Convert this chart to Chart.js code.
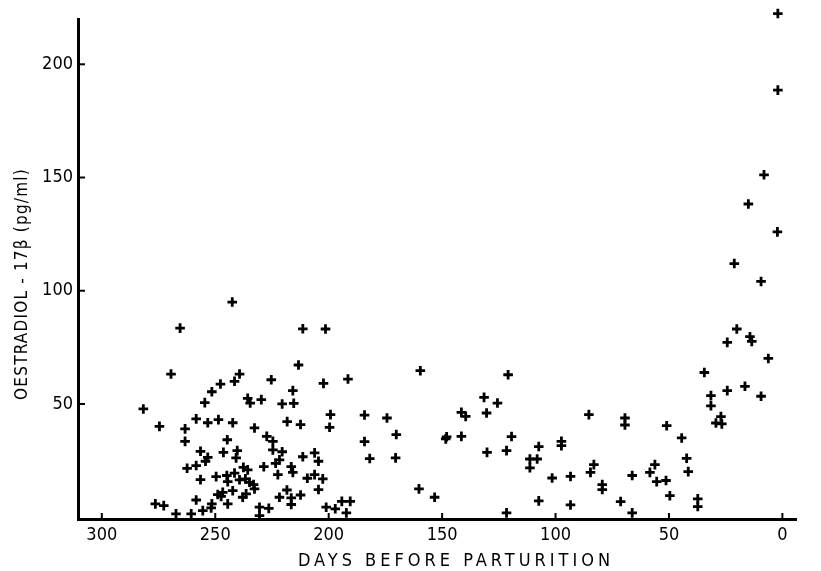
<!DOCTYPE html>
<html>
<head>
<meta charset="utf-8">
<script src="https://cdn.jsdelivr.net/npm/chart.js@4.4.1/dist/chart.umd.min.js"></script>
<style>
  html, body { margin: 0; padding: 0; background: #fff; }
  #wrap { width: 821px; height: 571px; }
</style>
</head>
<body>
<div id="wrap"><canvas id="oestradiolChart"></canvas></div>
<script>
// days before parturition for every sample
const days = [
  269.5, 281.7, 274.6, 239.3, 241.5, 247.7, 251.5, 254.6, 235.7, 234.6,
  229.7, 258.4, 253.3, 248.6, 242.3, 232.7, 263.3, 263.3, 244.7, 256.5,
  246.4, 240.3, 240.8, 253.3, 254.3, 258.4, 262.4, 237.6, 235.7, 241.5,
  244.9, 249.6, 256.5, 244.5, 239.3, 236.7, 234.9, 233.1, 232.7, 242.3,
  246.7, 248.9, 247.4, 236.4, 237.9, 258.4, 244.5, 251.5, 251.8, 255.5,
  276.4, 272.7, 267.3, 260.6, 213.3, 225.3, 215.8, 202.3, 191.5, 220.5,
  215.4, 199.2, 184.2, 199.6, 218.3, 212.4, 227.3, 224.6, 224.6, 220.5,
  211.4, 206.2, 204.5, 184.2, 181.9, 221.7, 223.4, 228.6, 216.5, 215.8,
  222.4, 209.4, 206.2, 202.6, 218.4, 221.7, 216.5, 216.5, 212.4, 204.5,
  230.5, 226.4, 230.5, 201.1, 197.1, 194.2, 190.5, 192.2, 265.5, 242.5,
  211.4, 201.4, 159.6, 174.3, 170.2, 170.5, 148.4, 148.0, 141.5, 139.6,
  141.5, 131.5, 130.4, 125.6, 120.9, 130.2, 121.6, 160.2, 153.3, 121.6,
  119.4, 107.4, 111.3, 108.1, 111.3, 97.4, 97.4, 101.5, 93.4, 85.3,
  69.4, 69.4, 83.1, 84.6, 79.4, 79.4, 66.2, 107.4, 93.4, 71.3,
  66.2, 58.4, 24.3, 13.5, 14.3, 6.2, 34.4, 24.3, 16.5, 9.4,
  31.5, 31.5, 27.1, 29.3, 26.7, 51.0, 44.4, 42.2, 56.2, 41.5,
  55.4, 51.3, 49.6, 37.3, 37.3, 2.0, 2.0, 8.1, 15.0, 2.2,
  21.2, 9.4, 20.1
];

// oestradiol-17beta, pg/ml, same order as days
const levels = [
  63.2, 47.8, 40.1, 63.2, 60.0, 58.8, 55.4, 50.6, 52.5, 50.4,
  51.9, 43.4, 41.7, 43.1, 41.7, 39.4, 39.0, 33.5, 34.2, 29.1,
  28.6, 29.4, 26.2, 26.4, 24.7, 22.8, 21.6, 22.0, 20.9, 19.5,
  18.4, 17.9, 16.6, 15.7, 16.5, 16.9, 15.4, 14.4, 12.5, 11.7,
  11.0, 10.0, 9.2, 10.3, 8.8, 7.6, 5.9, 5.9, 4.1, 2.9,
  5.9, 5.1, 1.5, 1.5, 67.2, 60.7, 55.9, 59.1, 61.0, 50.0,
  50.3, 45.3, 45.1, 39.7, 42.2, 40.9, 35.7, 33.5, 29.7, 28.9,
  26.7, 28.4, 24.7, 33.4, 25.9, 25.3, 23.8, 22.3, 22.3, 19.8,
  18.8, 17.2, 18.8, 16.9, 12.0, 8.8, 8.5, 5.6, 9.8, 12.2,
  4.4, 3.9, 0.7, 4.4, 3.7, 7.0, 7.0, 1.9, 83.5, 95.0,
  83.2, 83.1, 64.7, 43.8, 36.5, 26.2, 34.6, 35.5, 46.3, 44.5,
  35.7, 52.9, 46.0, 50.4, 62.9, 28.6, 29.4, 12.5, 8.8, 1.9,
  35.6, 31.2, 25.7, 25.7, 21.8, 33.5, 31.6, 17.3, 18.0, 45.3,
  43.8, 40.7, 23.2, 19.8, 14.4, 12.2, 18.4, 7.2, 5.4, 6.9,
  1.9, 19.8, 77.2, 77.6, 79.7, 70.1, 63.9, 55.9, 57.8, 53.4,
  53.7, 49.2, 44.4, 41.6, 41.2, 40.4, 35.0, 26.0, 23.2, 20.1,
  15.7, 16.2, 9.5, 8.1, 4.7, 222.4, 188.6, 151.2, 138.3, 126.0,
  112.0, 104.1, 83.1
];

const xTickValues = [300, 250, 200, 150, 100, 50, 0];
const yTickValues = [50, 100, 150, 200];

const xTitle = "DAYS BEFORE PARTURITION";
const yTitle = "OESTRADIOL - 17\u03B2 (pg/ml)";

const fontFamily = "'DejaVu Sans Condensed', 'Liberation Sans Narrow', 'DejaVu Sans', sans-serif";
const ink = "#000";

// inward tick marks and letter-spaced axis titles
const axisDecor = {
  id: "axisDecor",
  afterDraw(chart) {
    const ctx = chart.ctx;
    const xs = chart.scales.x;
    const ys = chart.scales.y;
    const area = chart.chartArea;

    ctx.save();
    ctx.strokeStyle = ink;
    ctx.lineWidth = 2;
    xTickValues.forEach(v => {
      const px = xs.getPixelForValue(v);
      ctx.beginPath();
      ctx.moveTo(px, area.bottom);
      ctx.lineTo(px, area.bottom - 6);
      ctx.stroke();
    });
    yTickValues.forEach(v => {
      const py = ys.getPixelForValue(v);
      ctx.beginPath();
      ctx.moveTo(area.left, py);
      ctx.lineTo(area.left + 7, py);
      ctx.stroke();
    });

    ctx.fillStyle = ink;
    ctx.textAlign = "center";
    ctx.textBaseline = "middle";

    ctx.font = "18px " + fontFamily;
    ctx.letterSpacing = "4px";
    ctx.fillText(xTitle, 456, 561);

    ctx.font = "17px " + fontFamily;
    ctx.letterSpacing = "1.2px";
    ctx.translate(23, 284);
    ctx.rotate(-Math.PI / 2);
    ctx.fillText(yTitle, 0, 0);
    ctx.restore();
  }
};

const ctx = document.getElementById("oestradiolChart").getContext("2d");

new Chart(ctx, {
  type: "scatter",
  data: {
    datasets: [
      {
        label: "Oestradiol-17\u03B2",
        data: days.map((d, i) => ({ x: d, y: levels[i] })),
        pointStyle: "cross",
        pointRadius: 4.8,
        pointBorderWidth: 2.8,
        borderColor: ink,
        backgroundColor: ink,
        clip: false
      }
    ]
  },
  options: {
    responsive: true,
    maintainAspectRatio: false,
    animation: false,
    layout: { padding: { left: 0, right: 25, top: 19, bottom: 0 } },
    plugins: {
      legend: { display: false },
      tooltip: { enabled: false }
    },
    scales: {
      x: {
        type: "linear",
        reverse: true,
        min: -6,
        max: 310.5,
        afterBuildTicks: scale => {
          scale.ticks = xTickValues.map(v => ({ value: v }));
        },
        afterFit: scale => { scale.height = 52; },
        grid: { display: true, drawOnChartArea: false, drawTicks: false },
        border: { display: true, color: ink, width: 3 },
        ticks: {
          color: ink,
          padding: 6,
          font: { family: fontFamily, size: 18 },
          maxRotation: 0
        }
      },
      y: {
        type: "linear",
        min: -0.8,
        max: 220,
        afterBuildTicks: scale => {
          scale.ticks = yTickValues.map(v => ({ value: v }));
        },
        afterFit: scale => { scale.width = 78; },
        grid: { display: true, drawOnChartArea: false, drawTicks: false },
        border: { display: true, color: ink, width: 3 },
        ticks: {
          color: ink,
          padding: 5,
          font: { family: fontFamily, size: 18 }
        }
      }
    }
  },
  plugins: [axisDecor]
});
</script>
</body>
</html>
